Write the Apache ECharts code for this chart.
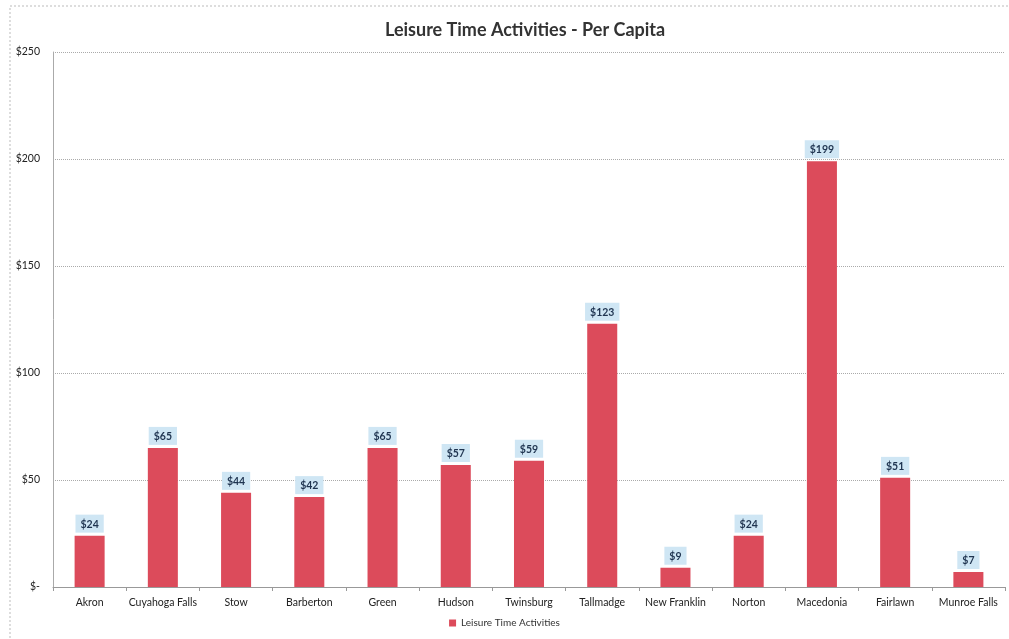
<!DOCTYPE html>
<html>
<head>
<meta charset="utf-8">
<script src="https://cdn.jsdelivr.net/npm/echarts@6/dist/echarts.min.js"></script>
<style>
  html, body { margin: 0; padding: 0; background: #fff; }
  #main { width: 1009px; height: 639px; }
</style>
</head>
<body>
<div id="main"></div>
<script>
var cities = ['Akron', 'Cuyahoga Falls', 'Stow', 'Barberton', 'Green', 'Hudson', 'Twinsburg',
  'Tallmadge', 'New Franklin', 'Norton', 'Macedonia', 'Fairlawn', 'Munroe Falls'];
var perCapita = [24, 65, 44, 42, 65, 57, 59, 123, 9, 24, 199, 51, 7];
var yTicks = [0, 50, 100, 150, 200, 250];

var chart = echarts.init(document.getElementById('main'));

chart.setOption({
  animation: false,
  textStyle: { fontFamily: 'Lato' },
  title: {
    text: 'Leisure Time Activities - Per Capita',
    left: 380,
    top: 16,
    textStyle: { fontFamily: 'Lato', fontSize: 18, fontWeight: 'bold', color: '#333' }
  },
  graphic: [{
    type: 'rect',
    shape: { x: 10, y: 6, width: 1010, height: 640 },
    style: { fill: 'none', stroke: '#bbb', lineWidth: 1, lineDash: [2, 2] },
    silent: true
  }],
  legend: {
    bottom: 6,
    left: 'center',
    itemWidth: 7,
    itemHeight: 7,
    icon: 'rect',
    textStyle: { fontSize: 10, color: '#333' }
  },
  grid: { left: 53, right: 4, top: 52, bottom: 52 },
  xAxis: {
    type: 'category',
    data: cities,
    axisLine: { lineStyle: { color: '#999' } },
    axisTick: { show: true, length: 4, lineStyle: { color: '#999' } },
    axisLabel: { interval: 0, fontSize: 10.5, color: '#222', margin: 10 }
  },
  yAxis: {
    type: 'value',
    min: yTicks[0],
    max: yTicks[yTicks.length - 1],
    interval: 50,
    axisLine: { show: true, lineStyle: { color: '#aaa' } },
    axisTick: { show: false },
    splitLine: { lineStyle: { color: '#aaa', type: 'dotted', width: 1 } },
    axisLabel: {
      fontSize: 10.5,
      color: '#222',
      margin: 13,
      formatter: function (v) { return v === 0 ? '$-' : '$' + v; }
    }
  },
  series: [{
    name: 'Leisure Time Activities',
    type: 'bar',
    data: perCapita,
    barWidth: '41%',
    itemStyle: { color: '#dc4b5b' },
    label: {
      show: true,
      position: 'top',
      distance: 3,
      formatter: '${c}',
      fontSize: 10.5,
      fontWeight: 'bold',
      color: '#1f3450',
      backgroundColor: '#cfe6f4',
      padding: [4, 5, 3, 5]
    }
  }]
});
</script>
</body>
</html>
